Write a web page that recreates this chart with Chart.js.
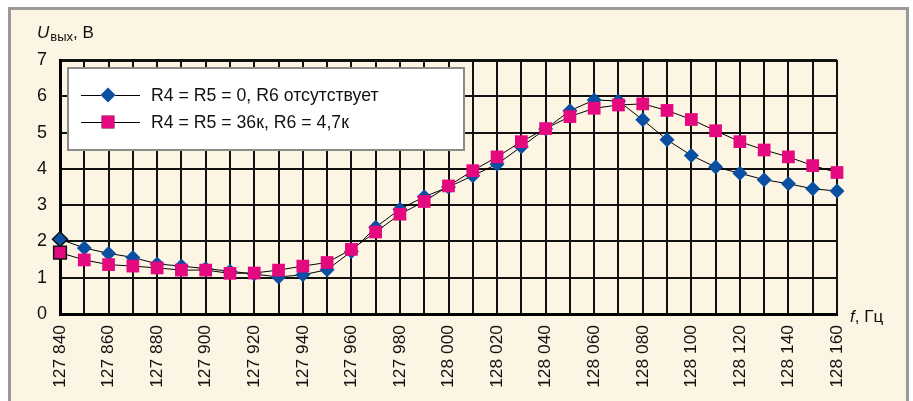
<!DOCTYPE html>
<html>
<head>
<meta charset="utf-8">
<script src="https://cdn.jsdelivr.net/npm/chart.js@4"></script>
<style>
html,body{margin:0;padding:0;background:#fff;}
canvas{display:block;}
</style>
</head>
<body>
<canvas id="c" width="913" height="401"></canvas>
<script>
// Frequencies (Hz)
const freqs = [127840,127850,127860,127870,127880,127890,127900,127910,127920,127930,127940,127950,127960,127970,127980,127990,128000,128010,128020,128030,128040,128050,128060,128070,128080,128090,128100,128110,128120,128130,128140,128150,128160];
// Series 1: R4 = R5 = 0, R6 отсутствует
const seriesA = [2.06,1.82,1.67,1.56,1.38,1.32,1.25,1.18,1.10,1.02,1.08,1.22,1.72,2.39,2.89,3.23,3.50,3.81,4.13,4.61,5.10,5.60,5.90,5.87,5.35,4.80,4.37,4.05,3.88,3.70,3.59,3.45,3.39];
// Series 2: R4 = R5 = 36к, R6 = 4,7к
const seriesB = [1.69,1.49,1.36,1.32,1.27,1.21,1.21,1.12,1.13,1.21,1.32,1.42,1.78,2.26,2.75,3.10,3.53,3.95,4.33,4.75,5.11,5.44,5.67,5.76,5.79,5.61,5.36,5.05,4.75,4.52,4.33,4.09,3.90];
const labelA = 'R4 = R5 = 0, R6 отсутствует';
const labelB = 'R4 = R5 = 36к, R6 = 4,7к';
const yTicks = [0,1,2,3,4,5,6,7];
const xLabelStep = 20;

const FONT = "'Liberation Sans', Arial, sans-serif";
const CREAM = '#fdf5e4';
const BLUE = '#0b4fa3';
const PINK = '#e5097f';

function fmtFreq(v){
  const k = Math.floor(v/1000);
  const r = String(v%1000).padStart(3,'0');
  return k + ' ' + r;
}

const bgPlugin = {
  id:'bg',
  beforeDraw(chart){
    const ctx = chart.ctx;
    ctx.save();
    ctx.fillStyle = '#fff';
    ctx.fillRect(0,0,chart.width,chart.height);
    ctx.fillStyle = '#9a9a9a';
    ctx.fillRect(8,7,901,chart.height-7);
    ctx.fillStyle = CREAM;
    ctx.fillRect(11,10,895,chart.height-10);
    ctx.restore();
  }
};

const decoPlugin = {
  id:'deco',
  afterDraw(chart){
    const ctx = chart.ctx;
    const ds = chart.data.datasets;
    ctx.save();
    // legend box
    ctx.fillStyle = '#fff';
    ctx.fillRect(68,68,396,82);
    ctx.strokeStyle = '#8a8a8a';
    ctx.lineWidth = 2;
    ctx.strokeRect(68,68,396,82);
    const rows = [{y:95, ds:ds[0]}, {y:122, ds:ds[1]}];
    rows.forEach(r=>{
      ctx.strokeStyle = '#000';
      ctx.lineWidth = 1;
      ctx.beginPath();
      ctx.moveTo(81, r.y+0.5);
      ctx.lineTo(140, r.y+0.5);
      ctx.stroke();
      Chart.helpers.drawPoint(ctx, {pointStyle:r.ds.pointStyle, radius:r.ds.pointRadius, borderWidth:0}, 108, r.y);
      ctx.fillStyle = r.ds.pointBackgroundColor;
      ctx.fill();
      ctx.fillStyle = '#111';
      ctx.font = "17.7px " + FONT;
      ctx.textBaseline = 'middle';
      ctx.textAlign = 'left';
      ctx.fillText(r.ds.label, 151, r.y+1);
    });
    // y-axis title
    ctx.fillStyle = '#111';
    ctx.textBaseline = 'alphabetic';
    ctx.font = "italic 17px " + FONT;
    ctx.fillText('U', 37, 38);
    let x = 37 + ctx.measureText('U').width + 1;
    ctx.font = "13px " + FONT;
    ctx.fillText('вых', x, 41);
    x += ctx.measureText('вых').width;
    ctx.font = "17px " + FONT;
    ctx.fillText(', В', x, 38);
    // x-axis title
    ctx.font = "italic 17px " + FONT;
    ctx.fillText('f', 850, 322);
    let x2 = 850 + ctx.measureText('f').width;
    ctx.font = "17px " + FONT;
    ctx.fillText(', Гц', x2, 322);
    ctx.restore();
  }
};

const firstOutline = (c)=> c.dataIndex===0 ? 1.5 : 0;

const ctx = document.getElementById('c').getContext('2d');
new Chart(ctx, {
  type:'line',
  data:{
    datasets:[
      {label:labelA, data:freqs.map((f,i)=>({x:f,y:seriesA[i]})), borderColor:'#000', borderWidth:1,
       pointStyle:'rectRot', pointRadius:7.5, pointBackgroundColor:BLUE, pointBorderColor:'#111', pointBorderWidth:firstOutline, order:1, tension:0, clip:false},
      {label:labelB, data:freqs.map((f,i)=>({x:f,y:seriesB[i]})), borderColor:'#000', borderWidth:1,
       pointStyle:'rect', pointRadius:9, pointBackgroundColor:PINK, pointBorderColor:'#111', pointBorderWidth:firstOutline, order:0, tension:0, clip:false}
    ]
  },
  options:{
    responsive:false,
    devicePixelRatio:1,
    animation:false,
    layout:{padding:{left:10,top:60,right:76,bottom:0}},
    plugins:{legend:{display:false}, tooltip:{enabled:false}},
    scales:{
      x:{
        type:'linear', min:freqs[0], max:freqs[freqs.length-1],
        afterFit(s){ s.height = 87; },
        afterBuildTicks(s){ s.ticks = freqs.map(v=>({value:v})); },
        grid:{color:'#111', lineWidth:2, drawTicks:false},
        border:{display:true, color:'#000', width:3},
        ticks:{
          autoSkip:false, minRotation:90, maxRotation:90, padding:11,
          color:'#111', font:{family:FONT, size:17.4},
          callback:(v)=> ((v-freqs[0])%xLabelStep===0) ? fmtFreq(v) : ''
        }
      },
      y:{
        min:0, max:7,
        afterFit(s){ s.width = 50; },
        afterBuildTicks(s){ s.ticks = yTicks.map(v=>({value:v})); },
        grid:{color:'#111', lineWidth:(c)=> c.tick && c.tick.value===7 ? 3 : 2, drawTicks:false},
        border:{display:true, color:'#000', width:3},
        ticks:{padding:13, color:'#111', font:{family:FONT, size:18}}
      }
    }
  },
  plugins:[bgPlugin, decoPlugin]
});
</script>
</body>
</html>
